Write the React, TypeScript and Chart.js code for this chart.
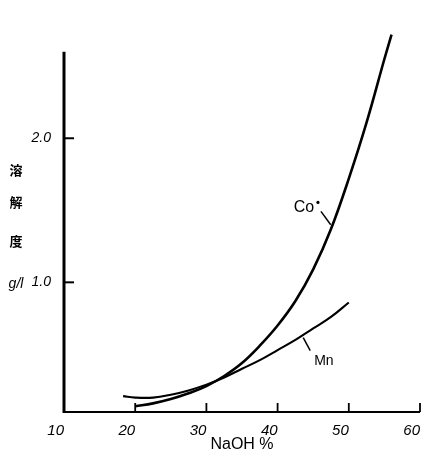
import React, { useEffect, useRef } from "react";
import { Chart, registerables } from "chart.js";

Chart.register(...registerables);

// NaOH concentration (%) and solubility (g/l)
const coX = [20, 22.5, 25, 27.5, 30, 32.5, 35, 37.5, 40, 42.5, 45, 47.5, 50, 52.5, 55, 56];
const coY = [0.14, 0.16, 0.19, 0.23, 0.28, 0.35, 0.44, 0.56, 0.7, 0.87, 1.09, 1.37, 1.72, 2.11, 2.55, 2.72];
const mnX = [18.3, 20, 22.5, 25, 27.5, 30, 32.5, 35, 37.5, 40, 42.5, 45, 47.5, 50];
const mnY = [0.21, 0.2, 0.2, 0.22, 0.25, 0.29, 0.34, 0.4, 0.46, 0.53, 0.6, 0.68, 0.76, 0.86];

const xTicks = [10, 20, 30, 40, 50, 60];
const xTickMarks = [20, 30, 40, 50, 60];
const yTicks = [1.0, 2.0];
const yTitleChars = ["溶", "解", "度"];
const yUnit = "g/l";
const xTitle = "NaOH %";
const seriesNames = ["Co", "Mn"];

const X_MIN = 10;
const X_MAX = 60;
const Y_MIN = 0.1;
const Y_MAX = 2.8;
const Y_AXIS_TOP = 2.6;

const NUM_FONT = "'Liberation Sans', sans-serif";

const decorPlugin = {
  id: "decor",
  afterDatasetsDraw(chart: any) {
    const { ctx, scales } = chart;
    const x = scales.x;
    const y = scales.y;
    ctx.save();
    ctx.strokeStyle = "#000";
    ctx.fillStyle = "#000";
    ctx.lineCap = "butt";
    const x0 = x.getPixelForValue(X_MIN);
    const yb = y.getPixelForValue(Y_MIN);
    // y axis
    ctx.lineWidth = 3;
    ctx.beginPath();
    ctx.moveTo(x0, yb + 1);
    ctx.lineTo(x0, y.getPixelForValue(Y_AXIS_TOP));
    ctx.stroke();
    // x axis
    ctx.lineWidth = 2;
    ctx.beginPath();
    ctx.moveTo(x0 - 1, yb);
    ctx.lineTo(x.getPixelForValue(X_MAX), yb);
    ctx.stroke();
    // x tick marks (inward)
    ctx.lineWidth = 1.8;
    xTickMarks.forEach((v) => {
      const px = x.getPixelForValue(v);
      ctx.beginPath();
      ctx.moveTo(px, yb);
      ctx.lineTo(px, yb - 9);
      ctx.stroke();
    });
    // y tick marks (inward)
    ctx.lineWidth = 2;
    yTicks.forEach((v) => {
      const py = y.getPixelForValue(v);
      ctx.beginPath();
      ctx.moveTo(x0, py);
      ctx.lineTo(x0 + 10, py);
      ctx.stroke();
    });

    // series labels with leader lines
    ctx.lineWidth = 1.5;
    // Co
    const coLx = x.getPixelForValue(43.7);
    const coLy = y.getPixelForValue(1.52);
    ctx.font = "16px 'Liberation Sans', sans-serif";
    ctx.textAlign = "center";
    ctx.textBaseline = "middle";
    ctx.fillText(seriesNames[0], coLx, coLy);
    ctx.beginPath();
    ctx.arc(coLx + 14, coLy - 5, 1.6, 0, Math.PI * 2);
    ctx.fill();
    const coP = { x: x.getPixelForValue(47.6), y: y.getPixelForValue(1.4) };
    ctx.beginPath();
    ctx.moveTo(coLx + 17, coLy + 4);
    ctx.lineTo(coP.x - 1, coP.y);
    ctx.stroke();
    // Mn
    const mnLx = x.getPixelForValue(46.5);
    const mnLy = y.getPixelForValue(0.45);
    ctx.font = "14px 'Liberation Sans', sans-serif";
    ctx.fillText(seriesNames[1], mnLx, mnLy);
    const mnP = { x: x.getPixelForValue(43.6), y: y.getPixelForValue(0.63) };
    ctx.beginPath();
    ctx.moveTo(mnP.x, mnP.y + 2);
    ctx.lineTo(mnP.x + 7, mnP.y + 15);
    ctx.stroke();

    // y title (vertical)
    ctx.font = "bold 13px 'Noto Sans CJK JP', sans-serif";
    const tx = 16;
    const ys = [170, 202, 241];
    yTitleChars.forEach((c, i) => ctx.fillText(c, tx, ys[i]));
    ctx.font = "italic 14px " + NUM_FONT;
    ctx.fillText(yUnit, tx, 284);
    ctx.restore();
  },
};

export default function App() {
  const ref = useRef<HTMLCanvasElement | null>(null);
  useEffect(() => {
    if (!ref.current) return;
    const chart = new Chart(ref.current, {
      type: "line",
      data: {
        datasets: [
          {
            label: seriesNames[0],
            data: coX.map((v, i) => ({ x: v, y: coY[i] })),
            borderColor: "#000",
            borderWidth: 2.6,
            pointRadius: 0,
            tension: 0.4,
            fill: false,
          },
          {
            label: seriesNames[1],
            data: mnX.map((v, i) => ({ x: v, y: mnY[i] })),
            borderColor: "#000",
            borderWidth: 2.1,
            pointRadius: 0,
            tension: 0.4,
            fill: false,
          },
        ],
      },
      options: {
        responsive: false,
        animation: false,
        layout: { padding: { top: 23, right: 3, left: 0, bottom: 0 } },
        plugins: { legend: { display: false }, tooltip: { enabled: false } },
        scales: {
          x: {
            type: "linear",
            min: X_MIN,
            max: X_MAX,
            grid: { display: false },
            border: { display: false },
            afterBuildTicks: (s: any) => {
              s.ticks = xTicks.map((v) => ({ value: v }));
            },
            afterFit: (s: any) => {
              s.height = 42;
            },
            ticks: {
              align: "end",
              padding: 2,
              autoSkip: false,
              maxRotation: 0,
              color: "#000",
              font: { family: NUM_FONT, size: 15, style: "italic" },
              callback: (v: any) => String(v),
            },
            title: {
              display: true,
              text: xTitle,
              color: "#000",
              font: { family: "'Liberation Sans', sans-serif", size: 16 },
              padding: { top: 0, bottom: 0 },
            },
          },
          y: {
            type: "linear",
            min: Y_MIN,
            max: Y_MAX,
            grid: { display: false },
            border: { display: false },
            afterBuildTicks: (s: any) => {
              s.ticks = yTicks.map((v) => ({ value: v }));
            },
            afterFit: (s: any) => {
              s.width = 64;
            },
            ticks: {
              padding: 5,
              color: "#000",
              font: { family: NUM_FONT, size: 14, style: "italic" },
              callback: (v: any) => Number(v).toFixed(1),
            },
          },
        },
      },
      plugins: [decorPlugin],
    } as any);
    return () => chart.destroy();
  }, []);
  return (
    <div style={{ position: "absolute", left: 0, top: 0, width: 423, height: 454, background: "#fff" }}>
      <canvas ref={ref} width={423} height={454} />
    </div>
  );
}
